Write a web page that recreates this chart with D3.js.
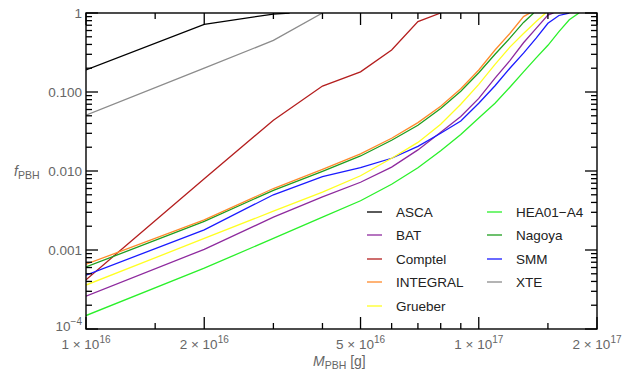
<!DOCTYPE html>
<html>
<head>
<meta charset="utf-8">
<script src="https://cdn.jsdelivr.net/npm/d3@7"></script>
<style>
body { margin: 0; background: #fff; }
text { font-family: "Liberation Sans", Arial, sans-serif; }
</style>
</head>
<body>
<svg id="chart"></svg>
<script>
// masses in g, f_PBH
const ascaM = [1e16, 2e16, 3e16, 3.3e16];
const asca = [0.19, 0.72, 0.97, 1];
const xteM = [1e16, 2e16, 3e16, 4e16];
const xte = [0.051, 0.2, 0.45, 1];
const comptelM = [1e16, 2e16, 3e16, 4e16, 5e16, 6e16, 7e16, 8e16];
const comptel = [0.00042, 0.008, 0.044, 0.119, 0.18, 0.34, 0.78, 1];

const gridM = [1e16, 2e16, 3e16, 4e16, 5e16, 6e16, 7e16, 8e16, 9e16, 1e17, 1.1e17, 1.2e17, 1.3e17, 1.4e17, 1.5e17, 1.6e17, 1.7e17, 1.8e17];
const integral = [0.00066, 0.0024, 0.006, 0.0105, 0.0165, 0.026, 0.041, 0.066, 0.11, 0.19, 0.34, 0.55, 0.9];
const integralEnd = [1.35e17, 1];
const nagoya = [0.00061, 0.0023, 0.0057, 0.0099, 0.0155, 0.0245, 0.038, 0.062, 0.102, 0.175, 0.3, 0.48, 0.76];
const nagoyaEnd = [1.38e17, 1];
const grueber = [0.00036, 0.0014, 0.0031, 0.0054, 0.0087, 0.0145, 0.023, 0.039, 0.07, 0.125, 0.224, 0.37, 0.55, 0.78];
const grueberEnd = [1.48e17, 1];
const bat = [0.00026, 0.00102, 0.0026, 0.0047, 0.0072, 0.0112, 0.0185, 0.031, 0.049, 0.083, 0.15, 0.25, 0.42, 0.64, 0.94];
const batEnd = [1.55e17, 1];
const smm = [0.00048, 0.0018, 0.005, 0.0085, 0.011, 0.0145, 0.0205, 0.03, 0.043, 0.072, 0.12, 0.2, 0.31, 0.48, 0.74, 0.93, 1];
const hea = [0.000148, 0.00059, 0.0014, 0.0026, 0.0042, 0.0068, 0.011, 0.018, 0.029, 0.047, 0.072, 0.115, 0.18, 0.27, 0.39, 0.58, 0.82, 1];

const xMajor = [1e16, 2e16, 5e16, 1e17, 2e17];
const xMajorMant = [1, 2, 5, 1, 2];
const xMajorExp = [16, 16, 16, 17, 17];
const xMinor = [1.5e16, 3e16, 4e16, 6e16, 7e16, 8e16, 9e16, 1.5e17];
const yMajor = [1, 0.1, 0.01, 0.001, 1e-4];
const yLabels = ["1", "0.100", "0.010", "0.001", "10^-4"];

function zipGrid(vals, end) {
  const pts = vals.map((v, i) => [gridM[i], v]);
  if (end) pts.push(end);
  return pts;
}

const series = [
  {name: "ASCA", color: "#000000", pts: ascaM.map((m, i) => [m, asca[i]])},
  {name: "BAT", color: "#8e2a9e", pts: zipGrid(bat, batEnd)},
  {name: "Comptel", color: "#b41e1e", pts: comptelM.map((m, i) => [m, comptel[i]])},
  {name: "INTEGRAL", color: "#ff8a2a", pts: zipGrid(integral, integralEnd)},
  {name: "Grueber", color: "#ffff22", pts: zipGrid(grueber, grueberEnd)},
  {name: "HEA01\u2212A4", color: "#2af02a", pts: zipGrid(hea)},
  {name: "Nagoya", color: "#1e9e1e", pts: zipGrid(nagoya, nagoyaEnd)},
  {name: "SMM", color: "#1a1aff", pts: zipGrid(smm)},
  {name: "XTE", color: "#8c8c8c", pts: xteM.map((m, i) => [m, xte[i]])}
];

const width = 635, height = 374;
const margin = {top: 13, right: 38, bottom: 45, left: 86};

const svg = d3.select("#chart").attr("width", width).attr("height", height);

const x = d3.scaleLog().domain([1e16, 2e17]).range([margin.left, width - margin.right]);
const y = d3.scaleLog().domain([1e-4, 1]).range([height - margin.bottom, margin.top]);

svg.append("clipPath").attr("id", "clip").append("rect")
  .attr("x", margin.left).attr("y", margin.top)
  .attr("width", x.range()[1] - margin.left).attr("height", y.range()[0] - margin.top);

// draw order so orange sits on green like the original
const drawOrder = ["XTE", "ASCA", "Comptel", "HEA01\u2212A4", "BAT", "SMM", "Grueber", "Nagoya", "INTEGRAL"];
const line = d3.line().x(d => x(d[0])).y(d => y(d[1]));
svg.append("g").attr("clip-path", "url(#clip)")
  .selectAll("path")
  .data(drawOrder.map(n => series.find(s => s.name === n)))
  .join("path")
  .attr("d", d => line(d.pts))
  .attr("fill", "none")
  .attr("stroke", d => d.color)
  .attr("stroke-width", 1.3);

// ticks (Mathematica style, pointing inward)
const x0 = margin.left, x1 = x.range()[1], y0 = y.range()[0], y1 = margin.top;
const tk = svg.append("g").attr("stroke", "#000").attr("stroke-width", 1.3);
const bigT = 12, smallT = 6;
xMajor.forEach(m => {
  tk.append("line").attr("x1", x(m)).attr("x2", x(m)).attr("y1", y0).attr("y2", y0 - bigT);
  tk.append("line").attr("x1", x(m)).attr("x2", x(m)).attr("y1", y1).attr("y2", y1 + bigT);
});
xMinor.forEach(m => {
  tk.append("line").attr("x1", x(m)).attr("x2", x(m)).attr("y1", y0).attr("y2", y0 - smallT);
  tk.append("line").attr("x1", x(m)).attr("x2", x(m)).attr("y1", y1).attr("y2", y1 + smallT);
});
const yMinor = [];
[1e-4, 1e-3, 1e-2, 0.1].forEach(d => { for (let k = 2; k <= 9; k++) yMinor.push(d * k); });
yMajor.forEach(v => {
  tk.append("line").attr("x1", x0).attr("x2", x0 + bigT).attr("y1", y(v)).attr("y2", y(v));
  tk.append("line").attr("x1", x1).attr("x2", x1 - bigT).attr("y1", y(v)).attr("y2", y(v));
});
yMinor.forEach(v => {
  tk.append("line").attr("x1", x0).attr("x2", x0 + smallT).attr("y1", y(v)).attr("y2", y(v));
  tk.append("line").attr("x1", x1).attr("x2", x1 - smallT).attr("y1", y(v)).attr("y2", y(v));
});

svg.append("rect").attr("x", x0).attr("y", y1).attr("width", x1 - x0).attr("height", y0 - y1)
  .attr("fill", "none").attr("stroke", "#000").attr("stroke-width", 1.4);

// tick labels
const labCol = "#666";
xMajor.forEach((m, i) => {
  const t = svg.append("text").attr("x", x(m)).attr("y", y0 + 20)
    .attr("text-anchor", "middle").attr("fill", labCol).attr("font-size", 13.5);
  t.append("tspan").text(xMajorMant[i] + " \u00d7 10");
  t.append("tspan").attr("dy", -6).attr("font-size", 10).text(xMajorExp[i]);
});
yMajor.forEach((v, i) => {
  const t = svg.append("text").attr("x", x0 - 4).attr("y", y(v) + 5)
    .attr("text-anchor", "end").attr("fill", labCol).attr("font-size", 13.5);
  if (yLabels[i].includes("^")) {
    const [b, e] = yLabels[i].split("^");
    t.attr("y", y(v) + 2);
    t.append("tspan").text(b);
    t.append("tspan").attr("dy", -6).attr("font-size", 10).text(e.replace("-", "\u2212"));
  } else {
    t.text(yLabels[i]);
  }
});

// axis titles
const yt = svg.append("text").attr("x", 14).attr("y", y(0.01) + 5).attr("fill", labCol).attr("font-size", 14);
yt.append("tspan").attr("font-style", "italic").text("f");
yt.append("tspan").attr("dy", 3).attr("font-size", 10.5).text("PBH");
const xt = svg.append("text").attr("x", 313).attr("y", 366).attr("fill", labCol).attr("font-size", 14);
xt.append("tspan").attr("font-style", "italic").text("M");
xt.append("tspan").attr("dy", 3).attr("font-size", 10.5).text("PBH");
xt.append("tspan").attr("dy", -3).text(" [g]");

// legend, two columns
const leg = svg.append("g");
const rowY = [212, 235, 259, 282, 306];
series.forEach((s, i) => {
  const col = i < 5 ? 0 : 1;
  const row = i < 5 ? i : i - 5;
  const lx = col === 0 ? 367 : 487;
  const g = leg.append("g").attr("transform", `translate(${lx},${rowY[row]})`);
  g.append("line").attr("x1", 0).attr("x2", 15).attr("stroke", s.color).attr("stroke-width", 1.3);
  g.append("text").attr("x", 29).attr("y", 5).attr("font-size", 13.5).attr("fill", "#222").text(s.name);
});
</script>
</body>
</html>
